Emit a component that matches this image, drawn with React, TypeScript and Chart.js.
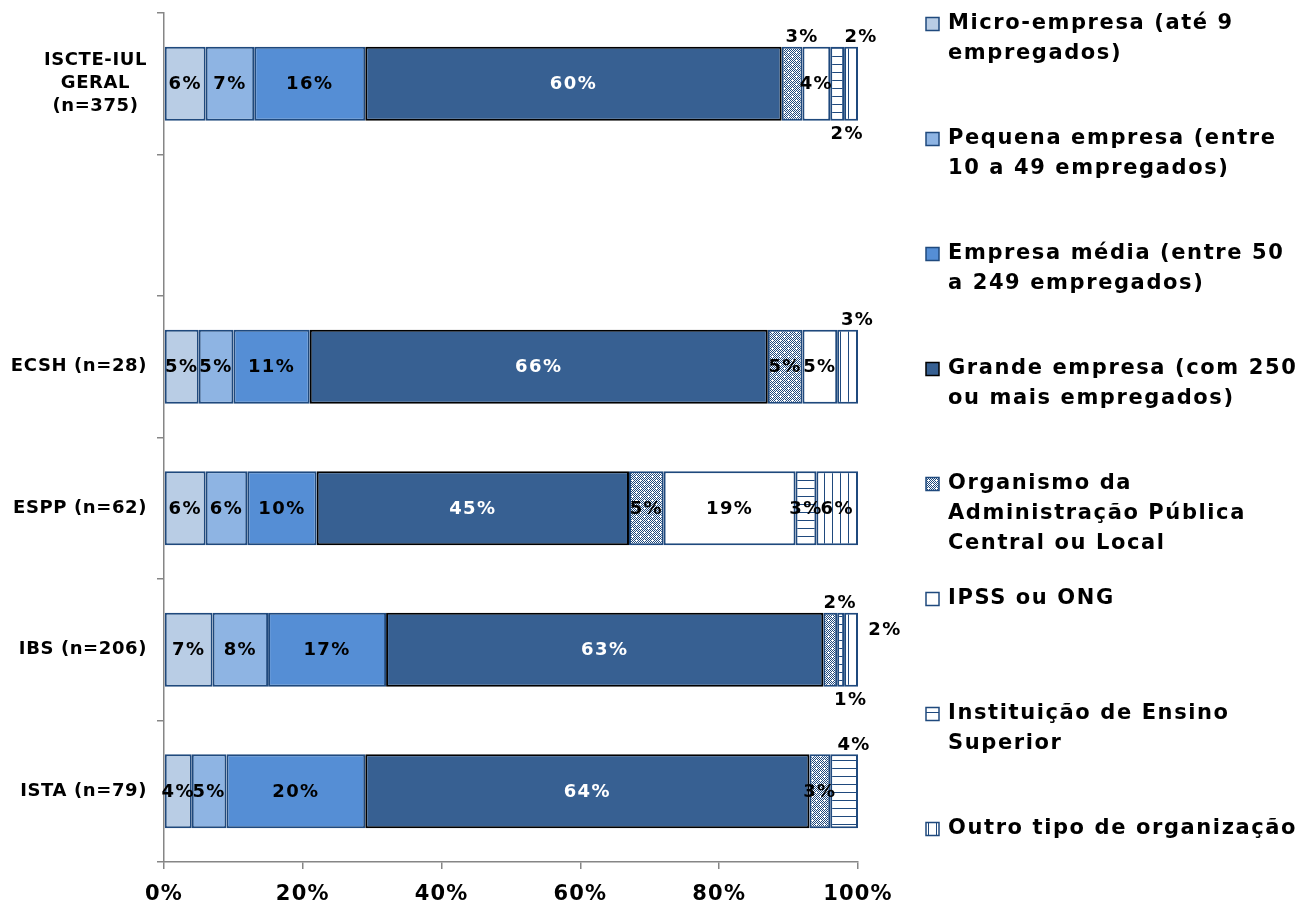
import React, { useEffect, useRef } from 'react';
import { Chart, registerables } from 'chart.js';

Chart.register(...registerables);

const FONT = '"DejaVu Sans", Verdana, sans-serif';

// Categories (y axis), top to bottom; the second slot is intentionally empty
const categories: string[][] = [
  ['ISCTE-IUL', 'GERAL', '(n=375)'],
  [''],
  ['ECSH (n=28)'],
  ['ESPP (n=62)'],
  ['IBS (n=206)'],
  ['ISTA (n=79)'],
];

// Series names (legend lines)
const seriesNames: string[][] = [
  ['Micro-empresa (até 9', 'empregados)'],
  ['Pequena empresa (entre', '10 a 49 empregados)'],
  ['Empresa média (entre 50', 'a 249 empregados)'],
  ['Grande empresa (com 250', 'ou mais empregados)'],
  ['Organismo da', 'Administração Pública', 'Central ou Local'],
  ['IPSS ou ONG'],
  ['Instituição de Ensino', 'Superior'],
  ['Outro tipo de organização'],
];

// Series values (%), one entry per category
const microEmpresa = [6, null, 5, 6, 7, 4];
const pequenaEmpresa = [7, null, 5, 6, 8, 5];
const empresaMedia = [16, null, 11, 10, 17, 20];
const grandeEmpresa = [60, null, 66, 45, 63, 64];
const organismoPublico = [3, null, 5, 5, 2, 3];
const ipssOng = [4, null, 5, 19, 0, 0];
const ensinoSuperior = [2, null, 0, 3, 1, 4];
const outroTipo = [2, null, 3, 6, 2, 0];

const seriesValues: (number | null)[][] = [
  microEmpresa,
  pequenaEmpresa,
  empresaMedia,
  grandeEmpresa,
  organismoPublico,
  ipssOng,
  ensinoSuperior,
  outroTipo,
];

// x axis ticks
const xTicks = [0, 20, 40, 60, 80, 100];

// where small value labels sit (category index, series index)
const labelPlacements: { cat: number; series: number; place: 'above' | 'below' | 'right' }[] = [
  { cat: 0, series: 4, place: 'above' },
  { cat: 0, series: 6, place: 'below' },
  { cat: 0, series: 7, place: 'above' },
  { cat: 2, series: 7, place: 'above' },
  { cat: 4, series: 4, place: 'above' },
  { cat: 4, series: 6, place: 'below' },
  { cat: 4, series: 7, place: 'right' },
  { cat: 5, series: 6, place: 'above' },
];

const DARK = '#1F497D';

function makePattern(kind: 'dots' | 'hlines' | 'vlines'): CanvasPattern | string {
  const c = document.createElement('canvas');
  c.width = 8;
  c.height = 8;
  const g = c.getContext('2d');
  if (!g) return '#ffffff';
  g.fillStyle = '#ffffff';
  g.fillRect(0, 0, 8, 8);
  g.fillStyle = DARK;
  if (kind === 'dots') {
    for (let x = 0; x < 8; x++) {
      for (let y = 0; y < 8; y++) {
        if ((x + y) % 2 === 0) g.fillRect(x, y, 1, 1);
      }
    }
    g.fillStyle = '#ffffff';
    g.fillRect(3, 4, 3, 1);
    g.fillRect(4, 3, 1, 3);
    g.fillRect(0, 0, 1, 1);
  } else if (kind === 'hlines') {
    g.fillRect(0, 0, 8, 1);
  } else {
    g.fillRect(0, 0, 1, 8);
  }
  return g.createPattern(c, 'repeat') || '#ffffff';
}

function setSpacing(ctx: any, px: number) {
  if ('letterSpacing' in ctx) ctx.letterSpacing = `${px}px`;
}

export default function App() {
  const ref = useRef<HTMLCanvasElement | null>(null);

  useEffect(() => {
    const canvas = ref.current;
    if (!canvas) return;

    const fills: (string | CanvasPattern)[] = [
      '#B9CDE5',
      '#8EB4E3',
      '#558ED5',
      '#376092',
      makePattern('dots'),
      '#FFFFFF',
      makePattern('hlines'),
      makePattern('vlines'),
    ];

    const valueLabels = {
      id: 'valueLabels',
      afterDatasetsDraw(chart: any) {
        const ctx = chart.ctx;
        ctx.save();
        ctx.font = `bold 18px ${FONT}`;
        setSpacing(ctx, 1.4);
        ctx.textAlign = 'center';
        ctx.textBaseline = 'middle';
        seriesValues.forEach((vals, i) => {
          const meta = chart.getDatasetMeta(i);
          meta.data.forEach((el: any, j: number) => {
            const v = vals[j];
            if (!v) return;
            const p = el.getProps(['x', 'y', 'base', 'height'], true);
            let cx = (p.x + p.base) / 2;
            let cy = p.y + 1;
            const pl = labelPlacements.find((l) => l.cat === j && l.series === i);
            ctx.fillStyle = i === 3 ? '#FFFFFF' : '#000000';
            if (pl) {
              ctx.fillStyle = '#000000';
              if (pl.place === 'above') {
                cx += 10;
                cy = p.y - p.height / 2 - 9;
              } else if (pl.place === 'below') {
                cx += 10;
                cy = p.y + p.height / 2 + 14;
              } else {
                cx = chart.chartArea.right + 27;
                cy = p.y - 19;
              }
            }
            ctx.fillText(`${v}%`, cx, cy);
          });
        });
        ctx.restore();
      },
    };

    const axisLabels = {
      id: 'axisLabels',
      afterDraw(chart: any) {
        const ctx = chart.ctx;
        const yScale = chart.scales.y;
        const xScale = chart.scales.x;
        ctx.save();
        // category labels
        ctx.font = `bold 18px ${FONT}`;
        setSpacing(ctx, 0.6);
        ctx.fillStyle = '#000000';
        ctx.textAlign = 'center';
        ctx.textBaseline = 'middle';
        const right = chart.chartArea.left - 17;
        categories.forEach((lines, idx) => {
          const w = Math.max(...lines.map((l) => ctx.measureText(l).width));
          const cx = right - w / 2;
          const cyMid = yScale.getPixelForValue(idx);
          const lh = 23;
          lines.forEach((l, k) => {
            ctx.fillText(l, cx, cyMid + (k - (lines.length - 1) / 2) * lh);
          });
        });
        // value axis labels
        ctx.font = `bold 21px ${FONT}`;
        setSpacing(ctx, 1.2);
        ctx.textBaseline = 'alphabetic';
        xTicks.forEach((t) => {
          ctx.fillText(`${t}%`, xScale.getPixelForValue(t), chart.chartArea.bottom + 38);
        });
        ctx.restore();
      },
    };

    const legendPlugin = {
      id: 'sideLegend',
      afterDraw(chart: any) {
        const ctx = chart.ctx;
        ctx.save();
        ctx.font = `bold 21px ${FONT}`;
        setSpacing(ctx, 1.6);
        ctx.textBaseline = 'middle';
        ctx.textAlign = 'left';
        seriesNames.forEach((lines, i) => {
          const y0 = 24 + i * 115;
          ctx.fillStyle = fills[i];
          ctx.fillRect(926, y0 - 6.5, 13, 13);
          ctx.strokeStyle = i === 3 ? '#000000' : DARK;
          ctx.lineWidth = 1.5;
          ctx.strokeRect(926, y0 - 6.5, 13, 13);
          ctx.fillStyle = '#000000';
          lines.forEach((l, k) => ctx.fillText(l, 948, y0 + k * 30));
        });
        ctx.restore();
      },
    };

    const chart = new Chart(canvas, {
      type: 'bar',
      data: {
        labels: categories,
        datasets: seriesValues.map((vals, i) => ({
          label: seriesNames[i].join(' '),
          data: vals,
          backgroundColor: fills[i] as any,
          borderColor: i === 3 ? '#000000' : DARK,
          borderWidth: (c: any) => (c.raw ? 2 : 0),
          borderSkipped: false,
          barPercentage: 0.523,
          categoryPercentage: 1,
        })),
      },
      options: {
        indexAxis: 'y',
        responsive: false,
        animation: false,
        layout: { padding: { top: 13, right: 449, left: 0, bottom: 0 } },
        plugins: { legend: { display: false }, tooltip: { enabled: false } },
        scales: {
          x: {
            stacked: true,
            min: 0,
            max: 100,
            afterBuildTicks: (s: any) => {
              s.ticks = xTicks.map((v) => ({ value: v }));
            },
            ticks: { display: false },
            grid: { drawOnChartArea: false, drawTicks: true, tickLength: 7, color: '#868686', lineWidth: 1.5 },
            border: { color: '#868686', width: 1.5 },
            afterFit: (s: any) => {
              s.height = 40;
            },
          },
          y: {
            stacked: true,
            ticks: { display: false },
            grid: { drawOnChartArea: false, drawTicks: true, tickLength: 7, color: '#868686', lineWidth: 1.5, offset: true },
            border: { color: '#868686', width: 1.5 },
            afterFit: (s: any) => {
              s.width = 164;
            },
          },
        },
      } as any,
      plugins: [valueLabels, axisLabels, legendPlugin],
    });

    return () => chart.destroy();
  }, []);

  return (
    <div style={{ position: 'absolute', left: 0, top: 0, width: 1307, height: 902, background: '#fff' }}>
      <canvas ref={ref} width={1307} height={902} style={{ display: 'block', width: 1307, height: 902 }} />
    </div>
  );
}
